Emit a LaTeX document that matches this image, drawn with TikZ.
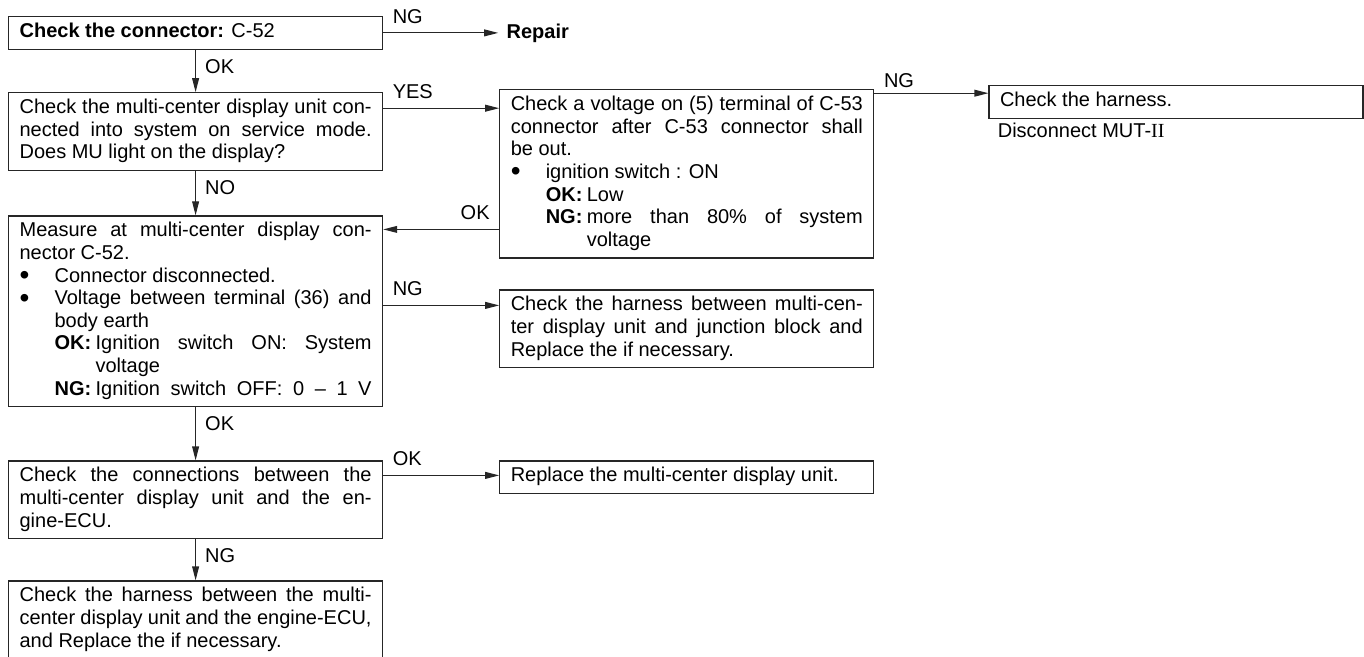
\documentclass[tikz,border=0pt]{standalone}
\usepackage{fontspec}
\setmainfont{Liberation Sans}
\newfontfamily\romanfont{Liberation Serif}
\usetikzlibrary{positioning,arrows.meta}
\newcommand{\boxfont}{\fontsize{10}{11.3}\selectfont}
\newcommand{\boxsetup}{\parindent=0pt\tolerance=10000\hyphenpenalty=10000\exhyphenpenalty=10000\strut}
\newcommand{\boxend}{\ifhmode\strut\fi}
\newlength{\bulletind}\setlength{\bulletind}{17.5pt}
\newlength{\valind}\setlength{\valind}{20.5pt}
\newcommand{\bitem}[1]{\par\leftskip=0pt\hangindent=\bulletind\hangafter=1\noindent\makebox[\bulletind][l]{\raisebox{-1.2pt}[0pt][0pt]{\fontsize{14}{11.3}\selectfont\textbullet}}#1}
\newcommand{\okng}[2]{\par\leftskip=\bulletind\hangindent=\valind\hangafter=1\noindent\makebox[\valind][l]{\textbf{#1}}#2}

\begin{document}
\begin{tikzpicture}[
    node distance=21.2pt and 58pt,
    box/.style={rectangle, draw=black!85, line width=0.6pt, text width=176pt, inner xsep=5.5pt, inner ysep=2.5pt, align=justify, font=\boxfont, execute at begin node=\boxsetup, execute at end node=\boxend},
    arrow/.style={-{Triangle[length=7pt,width=3.4pt]}, draw=black!85, line width=0.6pt},
    lbl/.style={font=\boxfont, inner sep=4.5pt}
]
\useasboundingbox (0,0) rectangle (682pt,-328.5pt);
\node[box, anchor=north west] (b1) at (4pt,-8pt) {\textbf{Check the connector:} C-52};
\node[box, below=of b1] (b2) {Check the multi-center display unit con-\linebreak nected into system on service mode.\linebreak Does MU light on the display?};
\node[box, below=22.1pt of b2] (b5) {Measure at multi-center display con-\linebreak nector C-52.
    \bitem{Connector disconnected.}
    \bitem{Voltage between terminal (36) and\linebreak body earth}
    \okng{OK:}{Ignition switch ON: System\linebreak voltage}
    \okng{NG:}{Ignition switch OFF: 0 -- 1 V}\parfillskip=0pt\strut\par};
\node[box, below=26.5pt of b5] (b7) {Check the connections between the\linebreak multi-center display unit and the en-\linebreak gine-ECU.};
\node[box, below=20.5pt of b7] (b9) {Check the harness between the multi-\linebreak center display unit and the engine-ECU,\linebreak and Replace the if necessary.};
\node[box, right=of b2.north east, anchor=north west, yshift=1.5pt] (b3) {Check a voltage on (5) terminal of C-53\linebreak connector after C-53 connector shall\linebreak be out.
    \bitem{ignition switch : ON}
    \okng{OK:}{Low}
    \okng{NG:}{more than 80\% of system\linebreak voltage}\strut\par};
\node[box, right=57pt of b3.north east, anchor=north west, yshift=2pt] (b4) {Check the harness.};
\node[box, below=15.4pt of b3] (b6) {Check the harness between multi-cen-\linebreak ter display unit and junction block and\linebreak Replace the if necessary.};
\node[box, right=of b7.north east, anchor=north west] (b8) {Replace the multi-center display unit.};
\node[right=57.5pt of b1, inner xsep=4pt, font=\boxfont\bfseries] (repair) {Repair};
\node[below=1pt of b4.south west, anchor=north west, inner xsep=4.5pt, inner ysep=0pt, font=\boxfont] (mut) {\strut Disconnect MUT-{\romanfont II}};

\coordinate (yes) at ([yshift=-8pt]b2.north east);
\coordinate (ngharn) at ([yshift=-4pt]b4.north west);
\coordinate (okback) at ([yshift=-7pt]b5.north east);
\coordinate (ngmeas) at ([yshift=-45pt]b5.north east);
\coordinate (okconn) at ([yshift=-7.5pt]b7.north east);

\draw[arrow] (b1) -- node[lbl, pos=0, above right] {NG} (repair);
\draw[arrow] (b1) -- node[lbl, pos=0, below right] {OK} (b2);
\draw[arrow] (yes) -- node[lbl, pos=0, above right] {YES} (yes -| b3.west);
\draw[arrow] (b2) -- node[lbl, pos=0, below right] {NO} (b5);
\draw[arrow] (ngharn -| b3.east) -- node[lbl, pos=0, above right, inner ysep=2.5pt] {NG} (ngharn);
\draw[arrow] (okback -| b3.west) -- node[lbl, pos=0, above left] {OK} (okback);
\draw[arrow] (ngmeas) -- node[lbl, pos=0, above right] {NG} (ngmeas -| b6.west);
\draw[arrow] (b5) -- node[lbl, pos=0, below right] {OK} (b7);
\draw[arrow] (okconn) -- node[lbl, pos=0, above right] {OK} (okconn -| b8.west);
\draw[arrow] (b7) -- node[lbl, pos=0, below right] {NG} (b9);
\end{tikzpicture}
\end{document}
